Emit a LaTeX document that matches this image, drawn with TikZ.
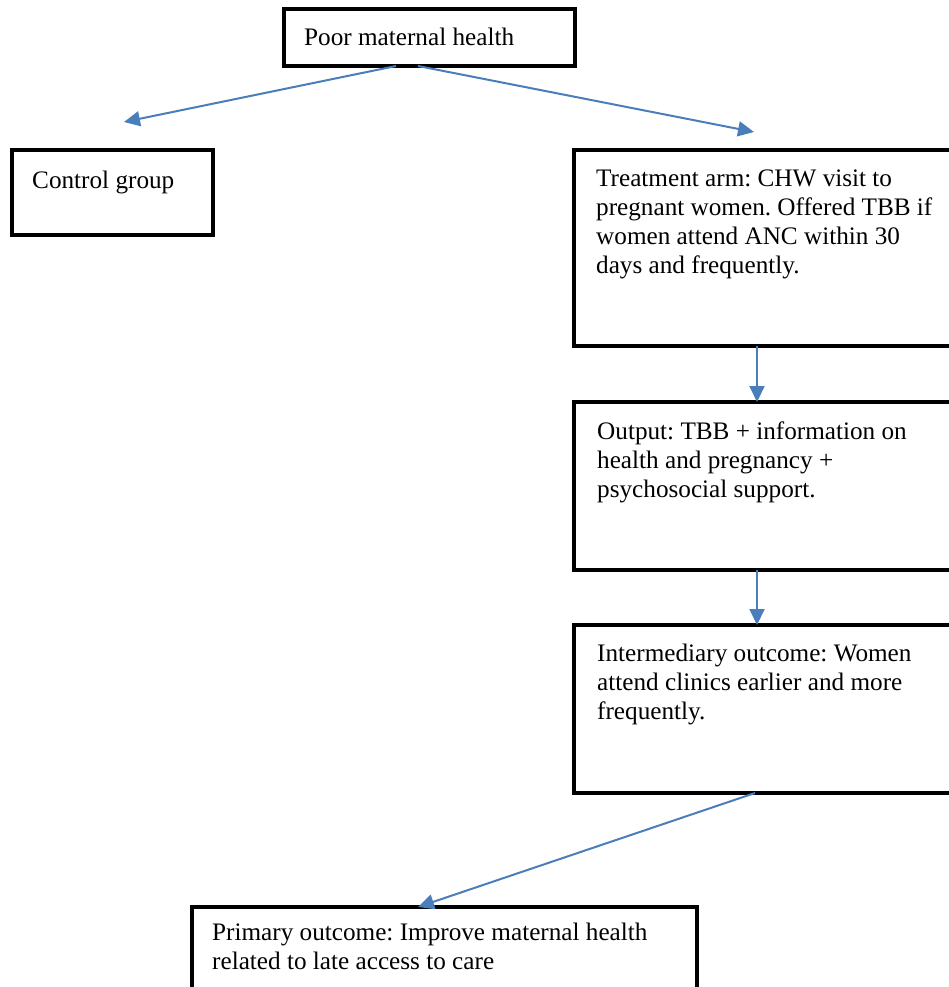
\documentclass[tikz,border=0pt]{standalone}
\usepackage{fontspec}
\setmainfont{Liberation Serif}
\usetikzlibrary{arrows.meta,calc}
\definecolor{arrowblue}{HTML}{4A7EBB}

\begin{document}
\frenchspacing
\begin{tikzpicture}[x=1pt,y=-1pt,
  box/.style={draw,line width=4pt,inner sep=0pt,outer sep=0pt,anchor=north west},
  boxtext/.style={anchor=north west,inner sep=0pt,align=left,font=\fontsize{25.2}{29}\selectfont},
  link/.style={arrowblue,line width=2pt,-{Triangle[length=16pt,width=15pt]}}]
\clip (0,0) rectangle (949,987);
% boxes
\node[box,minimum width=291pt,minimum height=57pt] (poor) at (284,9) {};
\node[box,minimum width=201pt,minimum height=85pt] (control) at (12,150) {};
\node[box,minimum width=386pt,minimum height=196pt] (treat) at (574,150) {};
\node[box,minimum width=386pt,minimum height=168pt] (output) at (574,402) {};
\node[box,minimum width=386pt,minimum height=168pt] (interm) at (574,625) {};
\node[box,minimum width=505pt,minimum height=100pt] (primary) at (192,907) {};
% texts
\node[boxtext] (poortxt) at ($(poor.north west)+(20,18.5)$) {Poor maternal health};
\node[boxtext] (controltxt) at ($(control.north west)+(20,20.5)$) {Control group};
\node[boxtext] (treattxt) at ($(treat.north west)+(22,19.5)$) {Treatment arm: CHW visit to\\pregnant women. Offered TBB if\\women attend ANC within 30\\days and frequently.};
\node[boxtext] (outputtxt) at ($(output.north west)+(23,19.5)$) {Output: TBB + information on\\health and pregnancy +\\psychosocial support.};
\node[boxtext] (intermtxt) at ($(interm.north west)+(23,18.5)$) {Intermediary outcome: Women\\attend clinics earlier and more\\frequently.};
\node[boxtext] (primarytxt) at ($(primary.north west)+(20,15.5)$) {Primary outcome: Improve maternal health\\related to late access to care};
% arrows
\coordinate (toctrl) at (124,122);
\coordinate (totreat) at (754,132);
\draw[link] ($(poor.south west)+(112,0)$) -- (toctrl);
\draw[link] ($(poor.south west)+(134,0)$) -- (totreat);
\draw[link] ($(treat.south west)+(183,0)$) -- ($(output.north west)+(183,0)$);
\draw[link] ($(output.south west)+(183,0)$) -- ($(interm.north west)+(183,0)$);
\draw[link] ($(interm.south west)+(181,0)$) -- ($(primary.north west)+(226,0)$);
\end{tikzpicture}
\end{document}
